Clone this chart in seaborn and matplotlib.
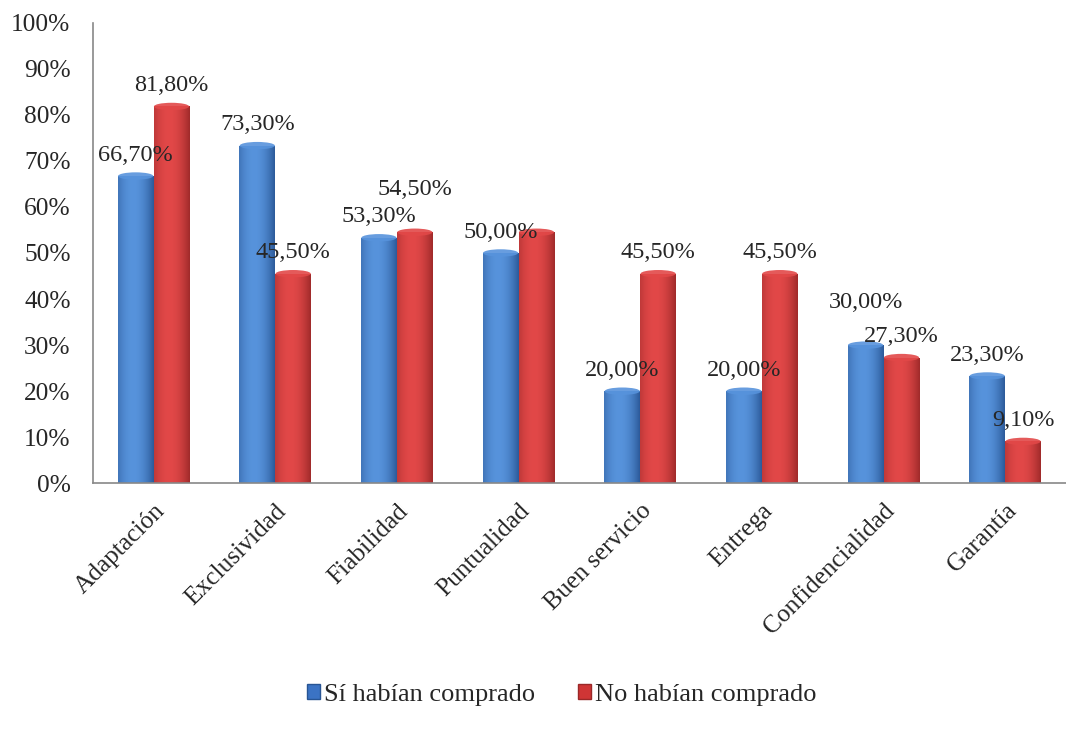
import numpy as np
import pandas as pd
import matplotlib
matplotlib.use("Agg")
import matplotlib.pyplot as plt
from matplotlib.patches import Patch, Ellipse
from matplotlib.colors import to_rgb
import seaborn as sns

# ---- data ----
categories = ["Adaptación", "Exclusividad", "Fiabilidad", "Puntualidad",
              "Buen servicio", "Entrega", "Confidencialidad", "Garantía"]
si_vals = [66.7, 73.3, 53.3, 50.0, 20.0, 20.0, 30.0, 23.3]
no_vals = [81.8, 45.5, 54.5, 54.5, 45.5, 45.5, 27.3, 9.1]
series_names = ["Sí habían comprado", "No habían comprado"]
si_show = [True] * 8
no_show = [True, True, True, False, True, True, True, True]
y_ticks = [0, 10, 20, 30, 40, 50, 60, 70, 80, 90, 100]

# label offsets (points) – style only
si_off = [15, 15, 15, 15, 15, 15, 31, 15]
no_off = [15, 15, 31, 15, 15, 15, 15, 15]

sns.set_style("white")
plt.rcParams["font.family"] = ["Liberation Serif", "DejaVu Serif"]
FS = 17.5
FS_TICK = 18.3
FS_LEG = 19

blue = "#3b73c4"
red = "#cf3535"
blue_dark, blue_light = "#285594", "#5793dc"
red_dark, red_light = "#9a2828", "#e24848"

fig = plt.figure(figsize=(10.66, 7.29), dpi=100)
ax = fig.add_axes([0.087, 0.337, 0.913, 0.632])

df = pd.DataFrame({
    "Categoría": categories * 2,
    "Valor": si_vals + no_vals,
    "Grupo": [series_names[0]] * len(categories) + [series_names[1]] * len(categories),
})
sns.barplot(data=df, x="Categoría", y="Valor", hue="Grupo", hue_order=series_names,
            palette=[blue, red], width=0.59, saturation=1, legend=False, ax=ax,
            edgecolor="none", zorder=2)

bars = list(ax.patches)
n = len(categories)


def gradient(dark, light):
    t = np.linspace(0, 1, 128)
    f = np.clip(1 - ((t - 0.42) / 0.6) ** 2, 0, 1)
    d = np.array(to_rgb(dark))
    l = np.array(to_rgb(light))
    cols = d[None, :] + (l - d)[None, :] * f[:, None]
    return cols[None, :, :]


grad_b = gradient(blue_dark, blue_light)
grad_r = gradient(red_dark, red_light)
for k, bar in enumerate(bars):
    x0, w, h = bar.get_x(), bar.get_width(), bar.get_height()
    g = grad_b if k < n else grad_r
    im = ax.imshow(g, extent=[x0, x0 + w, 0, h], aspect="auto",
                   interpolation="bicubic", zorder=2.5)
    im.set_clip_path(bar)
    light = blue_light if k < n else red_light
    ax.add_patch(Ellipse((x0 + w / 2, h), w * 0.98, 1.6, facecolor=light,
                         edgecolor="none", alpha=0.9, zorder=3))

ax.set_xlim(-0.5, 7.41)
ax.set_ylim(0, 100)


def fmt(v):
    return f"{v:.2f}%".replace(".", ",")


for i in range(n):
    b = bars[i]
    if si_show[i]:
        ax.annotate(fmt(si_vals[i]), xy=(b.get_x() + b.get_width() / 2, si_vals[i]),
                    xytext=(0, si_off[i]), textcoords="offset points",
                    ha="center", va="center", fontsize=FS, zorder=5)
    b = bars[n + i]
    if no_show[i]:
        ax.annotate(fmt(no_vals[i]), xy=(b.get_x() + b.get_width() / 2, no_vals[i]),
                    xytext=(0, no_off[i]), textcoords="offset points",
                    ha="center", va="center", fontsize=FS, zorder=5)

axis_col = "#888888"
ax.set_yticks(y_ticks)
ax.set_yticklabels([f"{v}%" for v in y_ticks], fontsize=FS_TICK)
ax.set_xticks(range(n))
ax.set_xticklabels(categories, fontsize=FS_TICK, rotation=45, ha="right",
                   rotation_mode="anchor")
ax.set_xticks(np.arange(-0.5, n, 1), minor=True)
ax.tick_params(axis="x", which="major", length=0, pad=12)
ax.tick_params(axis="x", which="minor", length=6, color=axis_col, direction="out", width=1.2)
ax.tick_params(axis="y", length=6, color=axis_col, direction="out", width=1.2, pad=10)
ax.set_xlabel("")
ax.set_ylabel("")
for s in ["top", "right"]:
    ax.spines[s].set_visible(False)
for s in ["left", "bottom"]:
    ax.spines[s].set_color(axis_col)
    ax.spines[s].set_linewidth(1.2)

handles = [Patch(facecolor=blue, edgecolor=blue_dark), Patch(facecolor=red, edgecolor=red_dark)]
fig.legend(handles=handles, labels=series_names, loc="center",
           bbox_to_anchor=(0.527, 0.047), ncol=2, frameon=False, fontsize=FS_LEG,
           handlelength=0.5, handleheight=0.5, handletextpad=0.15, columnspacing=1.6)

fig.savefig("out.png", dpi=100)
